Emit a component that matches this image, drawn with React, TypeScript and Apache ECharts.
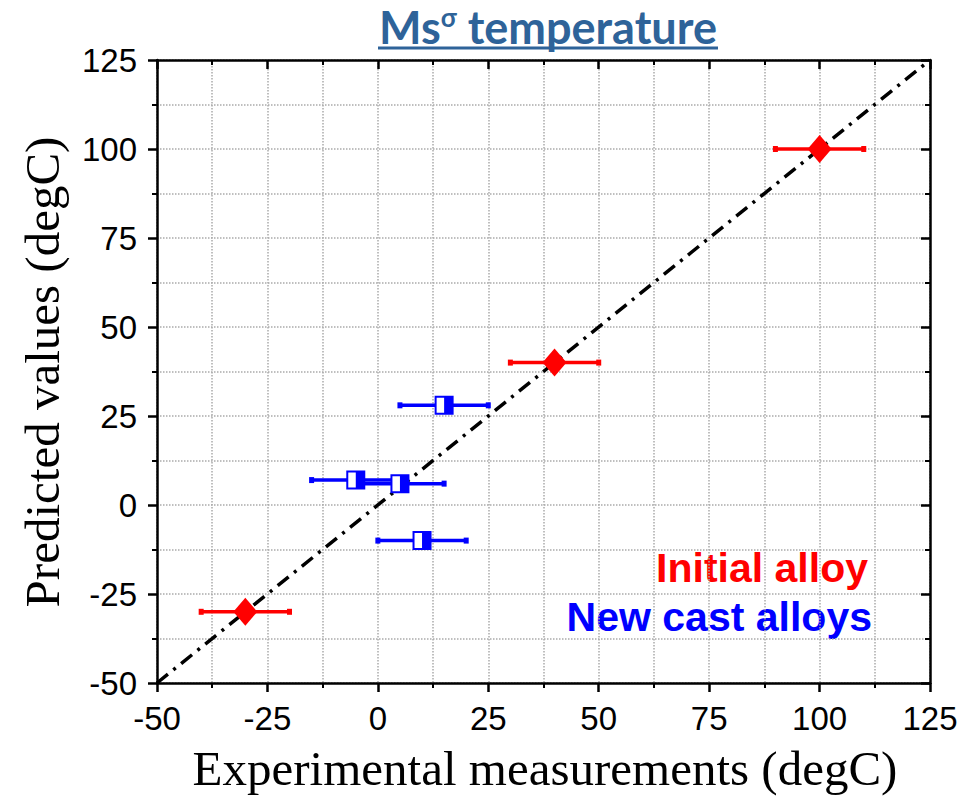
import React, { useEffect, useRef } from "react";
import * as echarts from "echarts";

const xTicks = [-50, 125];
const yTicks = [-50, 125];
const tickStep = 25;

const initialX = [-30, 40, 100];
const initialY = [-30, 40, 100];
const initialErr = [10, 10, 10];

const castX = [15, -5, 5, 10];
const castY = [28, 7, 6, -10];
const castErr = [10, 10, 10, 10];

const idealLine = [
  [-50, -50],
  [125, 125],
];

const titleMain = "Ms";
const titleSup = "σ";
const titleRest = " temperature";
const xName = "Experimental measurements (degC)";
const yName = "Predicted values (degC)";
const legendInitial = "Initial alloy";
const legendCast = "New cast alloys";

const RED = "#ff0000";
const BLUE = "#0000ff";
const TITLE = "#2e6399";

function errRender(color: string) {
  return (params: any, api: any) => {
    const x = api.value(0);
    const y = api.value(1);
    const e = api.value(2);
    const p1 = api.coord([x - e, y]);
    const p2 = api.coord([x + e, y]);
    return {
      type: "group",
      children: [
        {
          type: "line",
          shape: { x1: p1[0], y1: p1[1], x2: p2[0], y2: p2[1] },
          style: { stroke: color, lineWidth: 3.5 },
        },
        {
          type: "rect",
          shape: { x: p1[0] - 2.5, y: p1[1] - 3, width: 5, height: 6 },
          style: { fill: color },
        },
        {
          type: "rect",
          shape: { x: p2[0] - 2.5, y: p2[1] - 3, width: 5, height: 6 },
          style: { fill: color },
        },
      ],
    };
  };
}

function halfSquareRender(params: any, api: any) {
  const c = api.coord([api.value(0), api.value(1)]);
  const s = 17;
  return {
    type: "group",
    children: [
      {
        type: "rect",
        shape: { x: c[0] - s / 2, y: c[1] - s / 2, width: s, height: s },
        style: { fill: "#ffffff", stroke: BLUE, lineWidth: 2 },
      },
      {
        type: "rect",
        shape: { x: c[0], y: c[1] - s / 2, width: s / 2, height: s },
        style: { fill: BLUE },
      },
    ],
  };
}

export default function App() {
  const ref = useRef<HTMLDivElement>(null);
  useEffect(() => {
    if (!ref.current) return;
    const chart = echarts.init(ref.current, null, { renderer: "svg" });
    const gridLine = { show: true, lineStyle: { type: "dotted", color: "#ababab", width: 1.5 } };
    const axisLine = { show: true, onZero: false, lineStyle: { color: "#000", width: 2.5 } };
    const label = {
      fontSize: 33,
      color: "#000",
      fontFamily: "Liberation Sans, Arial, sans-serif",
    };
    const baseAxis = (pos: string, inside: boolean, showLabel: boolean, grid: boolean, mm: number[]) => ({
      type: "value",
      position: pos,
      min: mm[0],
      max: mm[1],
      interval: tickStep,
      axisLine,
      axisTick: { show: true, inside, length: 9, lineStyle: { color: "#000", width: 2.5 } },
      minorTick: { show: true, splitNumber: 2, length: 5, lineStyle: { color: "#000", width: 2 } },
      axisLabel: { show: showLabel, margin: pos === "left" ? 20 : 19, ...label },
      splitLine: grid ? gridLine : { show: false },
      minorSplitLine: grid ? gridLine : { show: false },
    });
    const castData = castX.map((x, i) => [x, castY[i], castErr[i]]);
    const initData = initialX.map((x, i) => [x, initialY[i], initialErr[i]]);
    chart.setOption({
      animation: false,
      backgroundColor: "#ffffff",
      grid: { left: 157, right: 33, top: 60, bottom: 114 },
      xAxis: [
        baseAxis("bottom", false, true, true, xTicks),
        baseAxis("top", true, false, false, xTicks),
      ],
      yAxis: [
        baseAxis("left", false, true, true, yTicks),
        baseAxis("right", true, false, false, yTicks),
      ],
      series: [
        {
          type: "line",
          data: idealLine,
          symbol: "none",
          lineStyle: { color: "#000", width: 3.5, type: [14, 7, 3, 7] },
          z: 1,
        },
        {
          type: "custom",
          data: castData,
          renderItem: errRender(BLUE),
          encode: { x: 0, y: 1 },
          z: 2,
        },
        {
          type: "custom",
          data: initData,
          renderItem: errRender(RED),
          encode: { x: 0, y: 1 },
          z: 2,
        },
        {
          type: "custom",
          data: castData,
          renderItem: halfSquareRender,
          encode: { x: 0, y: 1 },
          z: 3,
        },
        {
          type: "scatter",
          data: initData.map((d) => [d[0], d[1]]),
          symbol: "diamond",
          symbolSize: [24, 28],
          itemStyle: { color: RED, opacity: 1 },
          z: 3,
        },
      ],
      graphic: [
        {
          type: "text",
          x: 548,
          y: 27,
          style: {
            text: `{a|${titleMain}}{b|${titleSup}}{a|${titleRest}}`,
            align: "center",
            verticalAlign: "middle",
            rich: {
              a: { fontSize: 45, lineHeight: 46, fontWeight: "bold", fontFamily: "Lato", fill: TITLE },
              b: { fontSize: 26, fontWeight: "bold", fontFamily: "Lato", fill: TITLE, verticalAlign: "top" },
            },
          },
        },
        {
          type: "line",
          shape: { x1: 378, y1: 48, x2: 718, y2: 48 },
          style: { stroke: TITLE, lineWidth: 3 },
        },
        {
          type: "text",
          x: 42,
          y: 372,
          rotation: Math.PI / 2,
          style: {
            text: yName,
            font: '49px "Liberation Serif", "Times New Roman", serif',
            fill: "#000",
            align: "center",
            verticalAlign: "middle",
          },
        },
        {
          type: "text",
          x: 545,
          y: 768,
          style: {
            text: xName,
            font: '49px "Liberation Serif", "Times New Roman", serif',
            fill: "#000",
            align: "center",
            verticalAlign: "middle",
          },
        },
        {
          type: "text",
          x: 868,
          y: 568,
          style: {
            text: legendInitial,
            font: 'bold 41px "Liberation Sans", Arial, sans-serif',
            fill: RED,
            align: "right",
            verticalAlign: "middle",
          },
        },
        {
          type: "text",
          x: 872,
          y: 617,
          style: {
            text: legendCast,
            font: 'bold 41px "Liberation Sans", Arial, sans-serif',
            fill: BLUE,
            align: "right",
            verticalAlign: "middle",
          },
        },
      ],
    });
    return () => chart.dispose();
  }, []);
  return (
    <div
      ref={ref}
      style={{ position: "absolute", left: 0, top: 0, width: 963, height: 797 }}
    />
  );
}
